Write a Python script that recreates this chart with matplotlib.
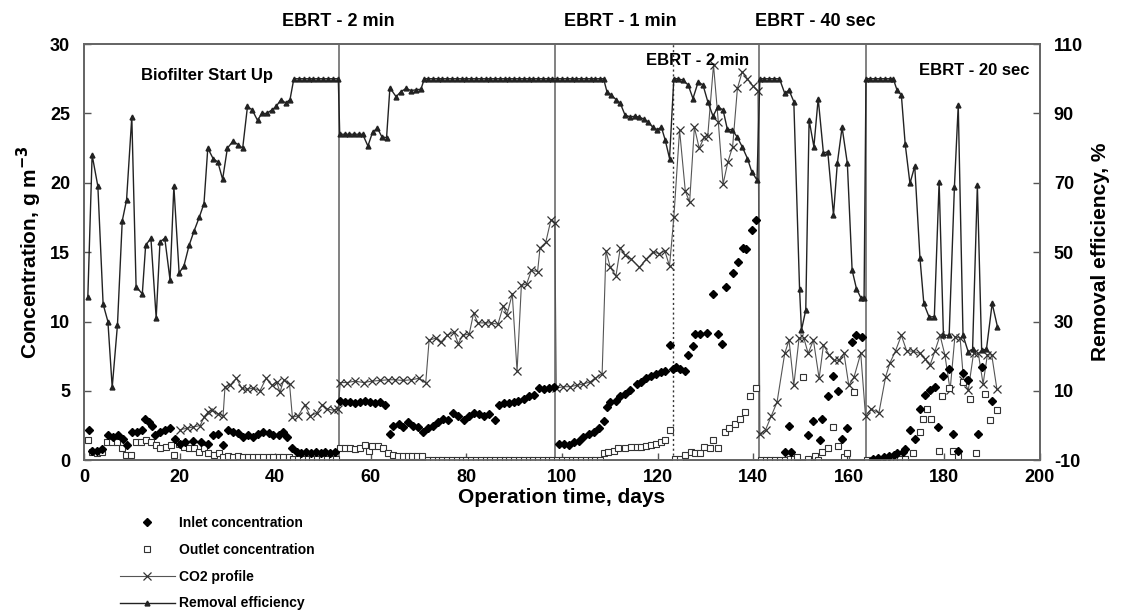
import matplotlib
matplotlib.use("Agg")
import matplotlib.pyplot as plt
from matplotlib.lines import Line2D

plt.rcParams['font.family'] = ['Liberation Sans', 'DejaVu Sans']
plt.rcParams['font.weight'] = 'bold'
plt.rcParams['axes.unicode_minus'] = False

# removal efficiency, % (right axis)
re_day = [0.8, 1.7, 2.9, 4.0, 5.0, 5.9, 7.0, 8.0, 8.9, 10.0,
          10.9, 12.2, 12.9, 14.0, 15.1, 15.9, 16.9, 18.0, 18.8, 19.9,
          20.9, 22.0, 23.0, 24.1, 25.1, 25.9, 27.0, 28.0, 29.0, 30.0,
          31.2, 32.2, 33.2, 34.2, 35.2, 36.3, 37.2, 38.2, 39.3, 40.2,
          41.2, 42.2, 43.1, 43.9, 45, 46, 47, 48, 49, 50, 51, 52, 53.2,
          53.5, 54.5, 55.5, 56.5, 57.5, 58.3, 59.4, 60.4, 61.4, 62.3, 63.3,
          64.0, 65.3, 66.3, 67.4, 68.4, 69.5, 70.5, 71.2,
          72, 73, 74, 75, 76, 77, 78, 79, 80, 81, 82, 83, 84, 85, 86, 87, 88, 89, 90,
          91, 92, 93, 94, 95, 96, 97, 98, 99, 100, 101, 102, 103, 104, 105, 106, 107, 108,
          108.7, 109.4, 110.3, 111.3, 112.2, 113.2, 114.3, 115.3, 116.2, 117.1,
          118.0, 119.0, 119.9, 120.8, 121.6, 122.5,
          123.4, 124.3, 125.3, 126.4, 127.4, 128.5, 129.5, 130.5, 131.6, 132.6,
          133.7, 134.6, 135.6, 136.6, 137.7, 138.8, 139.7, 140.8,
          141.4, 142.3, 143.3, 144.4, 145.5, 146.6, 147.5, 148.5, 149.7, 150.1,
          151.0, 151.7, 152.7, 153.6, 154.7, 155.6, 156.8, 157.6, 158.6, 159.7,
          160.7, 161.6, 162.5, 163.2,
          163.6, 164.5, 165.5, 166.5, 167.6, 168.6, 169.3, 170.1, 171.0, 171.8,
          172.8, 173.8, 174.9, 175.7, 176.8, 177.9, 178.9, 179.8, 181.0, 182.1,
          182.9, 183.9, 185.0, 185.9, 186.9, 187.8, 188.8, 190.0, 191.1]
re_val = [37, 78, 69, 35, 30, 11, 29, 59, 65, 89,
          40, 38, 52, 54, 31, 53, 54, 42, 69, 44,
          46, 52, 56, 60, 64, 80, 77, 76, 71, 80,
          82, 81, 80, 92, 91, 88, 90, 90, 91, 92,
          94, 93, 94, 100, 100, 100, 100, 100, 100, 100, 100, 100, 100,
          84, 84, 84, 84, 84, 84, 80.6, 84.7, 85.7, 83.3, 83,
          97.4, 94.8, 96.3, 97.2, 96.6, 96.8, 97, 100,
          100, 100, 100, 100, 100, 100, 100, 100, 100, 100, 100, 100, 100, 100, 100, 100, 100, 100, 100,
          100, 100, 100, 100, 100, 100, 100, 100, 100, 100, 100, 100, 100, 100, 100, 100, 100, 100,
          100, 96.3, 95.3, 94, 92.9, 89.5, 89, 89.2, 88.9, 88.4,
          87.6, 86, 85.3, 86, 82.3, 77,
          100, 100, 99.6, 98.2, 94.3, 99.1, 98.2, 93.4, 89.2, 91.9,
          91, 85.4, 85.3, 83.3, 80.4, 77, 73.2, 70.8,
          100, 100, 100, 100, 100, 95.8, 96.7, 93.4, 39.5, 27.5,
          33.3, 88.1, 80.4, 94.3, 78.5, 79, 60.7, 75.6, 86, 75.6,
          44.8, 39.5, 36.9, 36.9,
          100, 100, 100, 100, 100, 100, 100, 96.7, 95.3, 81.2,
          69.8, 74.8, 48.2, 35.2, 31.3, 31.4, 70.3, 26.1, 26, 68.8,
          92.4, 26, 21.2, 22, 69.3, 21.7, 22, 35.2, 28.5]

# CO2 profile, g m-3
co2_day = [20.1, 21.5, 22.9, 24.3, 25.1, 26.0, 26.7, 28.1, 29.1, 29.5,
           30.5, 31.9, 33.0, 34.0, 35.4, 36.8, 38.1, 39.3, 40.3, 41.0,
           41.8, 43.0, 43.6, 44.8, 46.2, 47.3, 48.7, 49.8, 50.8, 52.2, 53.2,
           53.6, 55.0, 56.7, 58.5, 60.2, 61.9, 63.7, 65.0, 66.8, 68.5, 70.0, 71.5,
           72.2, 73.6, 74.6, 76.0, 77.4, 78.3, 79.2, 80.6, 81.5, 82.4,
           83.8, 85.2, 86.6, 87.7, 88.5, 89.6, 90.6, 91.5, 92.6, 93.6,
           94.9, 95.4, 96.6, 97.7, 98.5,
           98.8, 100.3, 101.7, 103.1, 104.5, 105.9, 107.0, 108.4,
           109.2, 110.1, 111.3, 112.2, 113.2, 114.5, 116.2, 117.6, 119.0, 120.4, 121.5, 122.5,
           123.4, 124.6, 125.8, 126.7, 127.7, 128.7, 129.8, 130.5, 131.7, 132.7,
           133.7, 134.7, 135.7, 136.7, 137.7, 138.8, 139.9, 141.0,
           141.4, 142.6, 143.8, 145.0, 146.6, 147.5, 148.5, 149.6, 150.6, 151.5,
           152.6, 153.8, 154.7, 155.9, 156.9, 157.9, 159.0, 160.0, 161.1, 162.5,
           163.5, 164.7, 166.3, 167.7, 168.6, 169.8, 171.0, 172.1, 173.5, 174.9,
           176.0, 177.0, 178.0, 179.1, 180.1, 181.2, 182.2, 183.3, 184.0, 185.0,
           186.1, 187.1, 188.1, 189.0, 189.9, 191.0]
co2_val = [2.2, 2.3, 2.4, 2.5, 3.1, 3.5, 3.6, 3.35, 3.2, 5.3,
           5.4, 5.9, 5.2, 5.1, 5.2, 5.0, 5.9, 5.4, 5.65, 4.9,
           5.8, 5.5, 3.1, 3.2, 4.0, 3.2, 3.4, 4.0, 3.7, 3.6, 3.7,
           5.6, 5.6, 5.7, 5.6, 5.7, 5.75, 5.8, 5.8, 5.75, 5.8, 5.9, 5.6,
           8.65, 8.8, 8.5, 9.0, 9.25, 8.4, 9.0, 9.1, 10.6, 9.9,
           9.9, 9.9, 9.8, 11.1, 10.5, 12.0, 6.4, 12.6, 12.7, 13.7,
           13.6, 15.3, 15.7, 17.35, 17.1,
           5.2, 5.3, 5.3, 5.4, 5.5, 5.65, 5.9, 6.25,
           15.1, 13.9, 13.3, 15.3, 14.8, 14.5, 13.9, 14.5, 15.0, 14.9, 15.1, 14.0,
           17.5, 23.8, 19.4, 18.6, 24.0, 22.5, 23.3, 23.4, 28.5, 24.4,
           19.9, 21.5, 22.6, 26.8, 28.0, 27.5, 27.0, 26.6,
           1.9, 2.2, 3.2, 4.2, 7.7, 8.65, 5.4, 8.8, 8.8, 7.7,
           8.65, 5.9, 8.3, 7.6, 7.2, 7.2, 7.7, 5.4, 6.0, 7.7,
           3.2, 3.7, 3.4, 6.0, 7.0, 7.9, 9.0, 7.9, 7.85, 7.7,
           7.3, 6.85, 7.85, 9.0, 7.6, 5.05, 8.9, 8.8, 5.8, 5.05,
           7.7, 7.7, 5.5, 7.6, 7.6, 5.1]

# inlet concentration, g m-3
in_day = [1.1, 1.6, 2.7, 3.7, 5.1, 6.1, 7.2, 8.2, 8.9, 10.0,
          11.0, 12.1, 12.8, 13.5, 14.2, 14.9, 15.9, 17.0, 18.0, 19.1,
          20.1, 21.2, 22.9, 24.5, 26.0, 27.0, 28.1, 29.1, 30.2, 31.2,
          32.3, 33.3, 34.4, 35.4, 36.5, 37.5, 38.6, 39.6, 40.7, 41.7,
          42.4, 43.5, 44.5, 45.5, 46.5, 47.5, 48.5, 49.5, 50.5, 51.5, 52.5,
          53.6, 54.6, 55.6, 56.7, 57.7, 58.8, 59.8, 60.9, 61.9, 63.0,
          64.0, 64.7, 65.8, 66.8, 67.8, 68.9, 69.9, 71.0, 72.0, 73.1,
          74.1, 75.2, 76.2, 77.3, 78.3, 79.4, 80.5, 81.6, 82.6, 83.7,
          84.7, 85.9, 86.8, 87.8, 88.9, 89.9, 90.9, 92.0, 93.0, 94.1,
          95.1, 96.2, 97.2, 98.3,
          99.3, 100.4, 101.4, 102.5, 103.5, 104.5, 105.6, 106.6, 107.7, 108.7,
          109.4, 110.1, 111.2, 112.2, 113.2, 114.3, 115.6, 116.6, 117.6, 118.7,
          119.7, 120.8, 121.5, 122.5, 123.3, 123.9, 124.6, 125.7, 126.4, 127.4,
          127.8, 128.9, 130.3, 131.5, 132.6, 133.5, 134.4, 135.8, 136.8, 137.9,
          138.6, 139.7, 140.6,
          146.7, 147.5, 148.0, 151.5, 152.6, 154.0, 154.5, 155.7, 156.8, 157.8,
          158.5, 159.7, 160.6, 161.6, 162.7,
          165.0, 166.2, 167.4, 168.5, 169.4, 170.0, 171.4, 171.8, 172.8, 173.8,
          174.9, 176.0, 177.0, 178.0, 178.7, 179.8, 181.0, 181.8, 182.9, 184.0,
          185.0, 187.1, 187.8, 189.9]
in_val = [2.2, 0.7, 0.7, 0.8, 1.8, 1.7, 1.8, 1.55, 1.1, 2.0,
          2.0, 2.2, 3.0, 2.75, 2.5, 1.8, 2.0, 2.2, 2.3, 1.55,
          1.2, 1.3, 1.4, 1.3, 1.2, 1.8, 1.9, 1.1, 2.2, 2.0,
          1.95, 1.7, 1.8, 1.7, 1.9, 2.0, 1.95, 1.8, 1.8, 2.0,
          1.7, 0.85, 0.6, 0.55, 0.6, 0.55, 0.6, 0.5, 0.6, 0.55, 0.6,
          4.3, 4.2, 4.2, 4.1, 4.2, 4.3, 4.2, 4.1, 4.2, 3.95,
          1.9, 2.5, 2.6, 2.4, 2.75, 2.5, 2.4, 2.0, 2.3, 2.5,
          2.75, 3.0, 2.9, 3.4, 3.2, 2.9, 3.2, 3.4, 3.3, 3.2,
          3.3, 2.9, 3.95, 4.1, 4.1, 4.2, 4.3, 4.4, 4.6, 4.7,
          5.2, 5.1, 5.2, 5.3,
          1.2, 1.2, 1.1, 1.3, 1.4, 1.7, 1.9, 2.0, 2.3, 2.8,
          3.85, 4.2, 4.3, 4.6, 4.8, 5.05, 5.5, 5.65, 5.9, 6.1,
          6.25, 6.35, 6.45, 8.3, 6.6, 6.7, 6.6, 6.45, 7.6, 8.2,
          9.1, 9.1, 9.15, 12.0, 9.1, 8.4, 12.5, 13.5, 14.3, 15.3,
          15.2, 16.6, 17.35,
          0.6, 2.45, 0.6, 1.8, 2.8, 1.45, 3.0, 4.6, 6.05, 5.0,
          1.55, 2.35, 8.5, 9.0, 8.9,
          0.1, 0.15, 0.2, 0.3, 0.35, 0.5, 0.6, 0.8, 2.2, 1.55,
          3.7, 4.7, 5.05, 5.3, 2.4, 6.1, 6.6, 1.9, 0.7, 6.3,
          5.8, 1.9, 6.7, 4.3]

# outlet concentration, g m-3
out_day = [0.8, 1.7, 2.8, 3.8, 4.9, 5.9, 7.0, 8.0, 8.7, 9.8,
           10.8, 11.9, 12.9, 14.0, 15.0, 16.0, 17.1, 18.1, 18.8, 19.9,
           20.9, 22.0, 23.0, 24.1, 25.1, 25.9, 27.2, 28.2, 29.1, 30.2,
           31.2, 32.3, 33.3, 34.4, 35.4, 36.5, 37.5, 38.6, 39.6, 40.7,
           41.7, 42.8, 43.8, 44.8, 45.8, 46.8, 47.8, 48.8, 49.8, 50.8, 51.8, 52.8,
           53.6, 54.6, 55.6, 56.6, 57.7, 58.8, 59.6, 60.2, 61.6, 62.6,
           63.7, 64.7, 65.7, 66.7, 67.7, 68.7, 69.7, 70.7,
           72, 73, 74, 75, 76, 77, 78, 79, 80, 81, 82, 83, 84, 85, 86, 87, 88, 89, 90,
           91, 92, 93, 94, 95, 96, 97, 98, 99, 100, 101, 102, 103, 104, 105, 106, 107, 108,
           108.7, 109.7, 110.8, 111.8, 113.2, 114.5, 115.6, 116.6, 117.6, 118.7,
           119.7, 120.8, 121.5, 122.5, 123.6, 124.6, 125.7, 126.9, 127.8, 128.8,
           129.8, 130.9, 131.6, 132.6, 134.0, 135.0, 136.1, 137.2, 138.2, 139.3, 140.5,
           141.6, 142.6, 143.6, 144.6, 145.6, 146.6, 147.6, 148.6, 149.2,
           150.5, 151.5, 152.9, 153.6, 154.3, 155.7, 156.8, 157.8, 158.9, 159.6, 161.1,
           163.8, 164.8, 165.8, 166.8, 167.8, 168.8, 169.8, 170.8, 171.8,
           173.5, 174.9, 175.6, 176.3, 177.3, 178.9, 179.4, 180.9, 181.8, 182.9,
           184.0, 185.4, 186.7, 188.5, 189.5, 191.0]
out_val = [1.45, 0.6, 0.5, 0.6, 1.3, 1.3, 1.3, 0.85, 0.35, 0.35,
           1.3, 1.3, 1.45, 1.3, 1.1, 0.85, 0.95, 1.1, 0.35, 1.2,
           0.95, 0.85, 0.85, 0.6, 0.85, 0.5, 0.35, 0.5, 0.25, 0.3,
           0.25, 0.3, 0.2, 0.25, 0.2, 0.2, 0.25, 0.2, 0.2, 0.25,
           0.2, 0.2, 0.1, 0.1, 0.1, 0.1, 0.1, 0.1, 0.1, 0.1, 0.1, 0.1,
           0.85, 0.85, 0.85, 0.8, 0.85, 1.1, 0.7, 1.0, 1.0, 0.85,
           0.5, 0.4, 0.3, 0.3, 0.3, 0.3, 0.3, 0.3,
           0.05, 0.05, 0.05, 0.05, 0.05, 0.05, 0.05, 0.05, 0.05, 0.05, 0.05, 0.05, 0.05, 0.05, 0.05, 0.05, 0.05, 0.05, 0.05,
           0.05, 0.05, 0.05, 0.05, 0.05, 0.05, 0.05, 0.05, 0.05, 0.05, 0.05, 0.05, 0.05, 0.05, 0.05, 0.05, 0.05, 0.05,
           0.5, 0.6, 0.7, 0.85, 0.85, 0.95, 0.95, 0.95, 1.0, 1.1,
           1.2, 1.3, 1.45, 2.2, 0.1, 0.1, 0.35, 0.6, 0.5, 0.5,
           0.95, 0.85, 1.45, 0.85, 2.0, 2.3, 2.6, 3.0, 3.5, 4.6, 5.2,
           0.05, 0.05, 0.05, 0.05, 0.05, 0.05, 0.1, 0.1, 0.2,
           6.0, 0.1, 0.3, 0.0, 0.6, 0.9, 2.4, 1.0, 0.2, 0.5, 4.9,
           0.05, 0.05, 0.05, 0.05, 0.05, 0.05, 0.05, 0.1, 0.1,
           0.5, 2.0, 3.0, 3.7, 3.0, 0.7, 4.6, 5.2, 0.7, 0.3,
           5.65, 4.4, 0.5, 4.8, 2.9, 3.6]

phase_lines = [53.3, 98.6, 141.3, 163.5]
dotted_line = 123.2

fig = plt.figure(figsize=(11.26, 6.12), dpi=100)
ax = fig.add_axes([0.0746, 0.248, 0.849, 0.680])
ax2 = ax.twinx()

for d in phase_lines:
    ax.axvline(d, color='#777777', lw=1.3, zorder=1)
ax.axvline(dotted_line, color='#333333', lw=1.0, ls=(0, (1.5, 2)), zorder=1)

ax.plot(co2_day, co2_val, color='#555555', lw=0.8, marker='x', ms=6,
        mew=0.9, mec='#333333', zorder=3)
ax.plot(in_day, in_val, ls='none', marker='D', ms=4.5, color='black', zorder=4)
ax.plot(out_day, out_val, ls='none', marker='s', ms=5, mfc='white',
        mec='#333333', mew=0.8, zorder=3)
ax2.plot(re_day, re_val, color='#222222', lw=1.0, marker='^', ms=3.5, zorder=3)

ax.set_xlim(0, 200)
ax.set_ylim(0, 30)
ax2.set_ylim(-10, 110)
ax.set_xticks(range(0, 201, 20))
ax.set_yticks(range(0, 31, 5))
ax2.set_yticks(range(-10, 111, 20))
for a in (ax, ax2):
    a.tick_params(direction='in', length=5, width=1, labelsize=13, color='#555555', pad=10)
    for s in a.spines.values():
        s.set_color('#666666')
        s.set_linewidth(1.3)
ax.tick_params(axis='x', pad=6)

ax.set_xlabel('Operation time, days', fontsize=15, fontweight='bold', labelpad=2)
ax.set_ylabel('Concentration, g m$^{\\mathbf{-3}}$', fontsize=15, fontweight='bold', labelpad=4)
ax2.set_ylabel('Removal efficiency, %', fontsize=15, fontweight='bold', labelpad=6)

tr = ax.get_xaxis_transform()
ax.text(53.3, 1.055, 'EBRT - 2 min', transform=tr, ha='center', va='center', fontsize=13)
ax.text(112.1, 1.055, 'EBRT - 1 min', transform=tr, ha='center', va='center', fontsize=13)
ax.text(153.0, 1.055, 'EBRT - 40 sec', transform=tr, ha='center', va='center', fontsize=13)
ax.text(25.8, 27.75, 'Biofilter Start Up', ha='center', va='center', fontsize=12)
ax.text(128.3, 28.8, 'EBRT - 2 min', ha='center', va='center', fontsize=12)
ax.text(186.3, 28.1, 'EBRT - 20 sec', ha='center', va='center', fontsize=12)

handles = [
    Line2D([], [], ls='none', marker='D', ms=4.5, color='black'),
    Line2D([], [], ls='none', marker='s', ms=5, mfc='white', mec='#333333', mew=0.8),
    Line2D([], [], color='#555555', lw=0.8, marker='x', ms=6, mew=0.9, mec='#333333'),
    Line2D([], [], color='#222222', lw=1.0, marker='^', ms=3.5),
]
labels = ['Inlet concentration', 'Outlet concentration', 'CO2 profile', 'Removal efficiency']
fig.legend(handles, labels, loc='upper left', bbox_to_anchor=(0.1, 0.168),
           frameon=False, fontsize=10, handlelength=4.0, handletextpad=0.3,
           labelspacing=0.92, borderpad=0)

fig.savefig('out.png', dpi=100)
